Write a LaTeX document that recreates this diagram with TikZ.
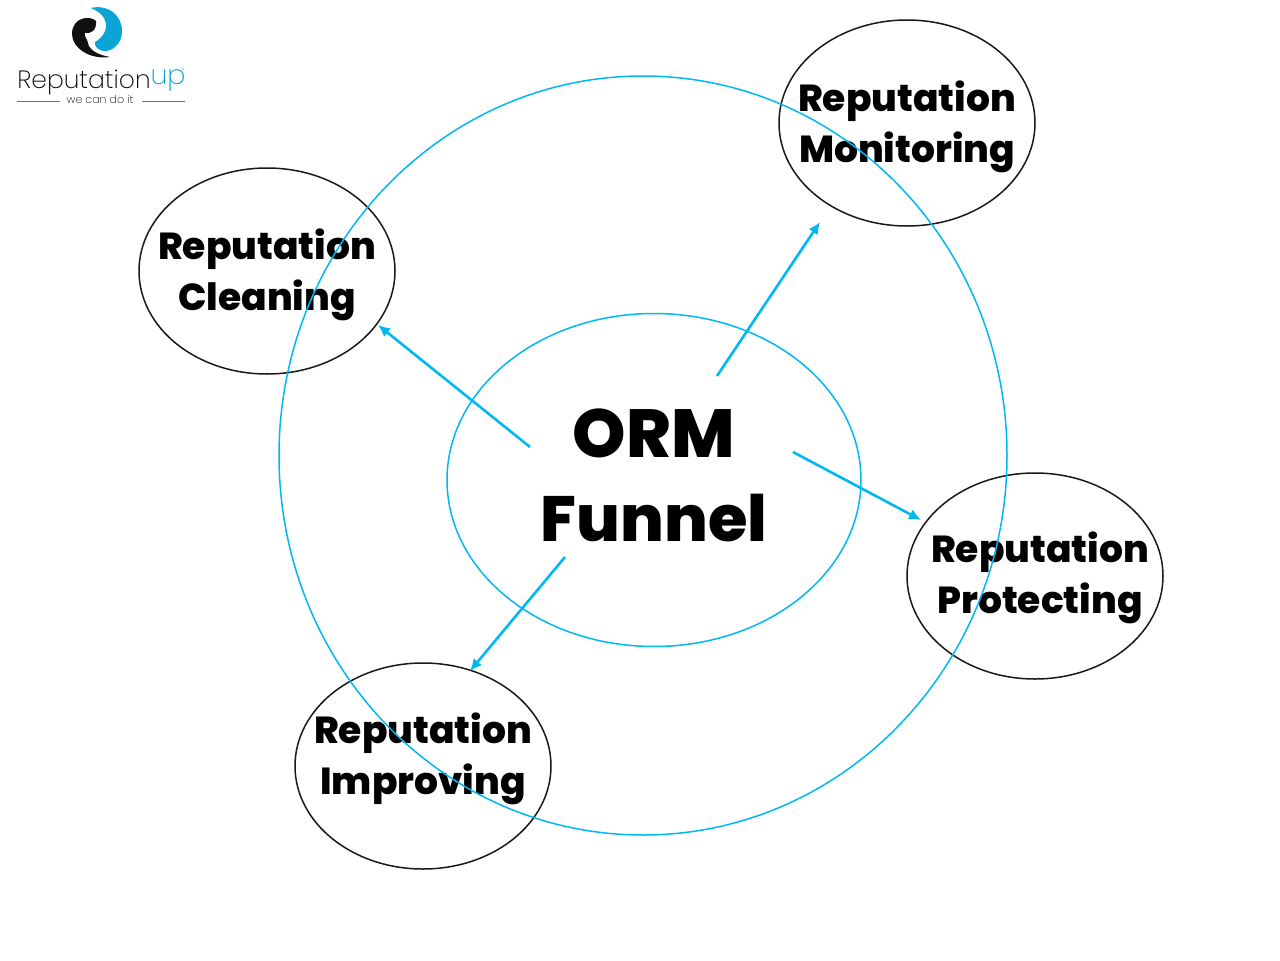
\documentclass[tikz,border=0pt]{standalone}
\usepackage{fontspec}
\setmainfont{Poppins}
\newfontfamily\heavyfont{Poppins ExtraBold}
\newfontfamily\logofont{Poppins ExtraLight}
\usetikzlibrary{shapes.geometric,arrows.meta}
\definecolor{cyanline}{HTML}{00B9F2}
\definecolor{logoblue}{HTML}{0AA5D6}
\definecolor{logoblack}{HTML}{111111}
\tikzset{
  x=1pt,y=-1pt,
  topic/.style={ellipse,draw=black!90,line width=1.5pt,minimum width=256pt,minimum height=206pt,inner sep=0pt},
  topictext/.style={inner sep=0pt,align=center,font=\heavyfont\fontsize{37.6}{51}\selectfont},
  coretext/.style={inner sep=0pt,align=center,font=\heavyfont\fontsize{64}{84}\selectfont},
  ring/.style={ellipse,draw=cyanline,line width=1.5pt,inner sep=0pt},
  flow/.style={draw=cyanline,line width=2.6pt,-{Latex[length=12pt,width=11pt]}},
  logorule/.style={draw=black!55,line width=0.7pt}
}
\begin{document}
\begin{tikzpicture}
\useasboundingbox (0,0) rectangle (1280,961);
\fill[white] (0,0) rectangle (1280,961);
\node[topic] (mon) at (907,123) {};
\node[topic] (cle) at (267,271) {};
\node[topic] (pro) at (1035,576) {};
\node[topic] (imp) at (423,766) {};
\node[topictext] (tmon) at (907,127) {Reputation\\Monitoring};
\node[topictext] (tcle) at (267,275) {Reputation\\Cleaning};
\node[topictext] (tpro) at (1040,578) {Reputation\\Protecting};
\node[topictext] (timp) at (423,759) {Reputation\\Improving};
\node[ring,minimum width=728pt,minimum height=759pt] (outer) at (643,455.5) {};
\node[ring,minimum width=414pt,minimum height=333pt] (core) at (654,480) {};
\node[coretext] (tcore) at (654,475) {{\fontsize{68}{84}\selectfont ORM}\\Funnel};
\coordinate (a1) at (717,376); \coordinate (b1) at (820,222);
\coordinate (a2) at (530,447); \coordinate (b2) at (378,325);
\coordinate (a3) at (793,452); \coordinate (b3) at (921,520);
\coordinate (a4) at (565,557); \coordinate (b4) at (470,671);
\draw[flow] (a1) -- (b1);
\draw[flow] (a2) -- (b2);
\draw[flow] (a3) -- (b3);
\draw[flow] (a4) -- (b4);
% logo
\fill[logoblack] (96,21) .. controls (90,15) and (72,17) .. (72,34) .. controls (72,48) and (90,60) .. (110,57) .. controls (98,55) and (89,50) .. (88,43) .. controls (87,38) and (84,37) .. (85,33) .. controls (90,34) and (97,31) .. (96,21) -- cycle;
\fill[logoblue] (91,8) .. controls (108,4) and (122,15) .. (122,31) .. controls (122,44) and (112,52) .. (103,51) .. controls (98,50) and (94,46) .. (95,42) .. controls (102,38) and (107,31) .. (106,24) .. controls (105,16) and (98,11) .. (91,8) -- cycle;
\node[inner sep=0pt,text=black,font=\logofont\fontsize{25}{25}\selectfont] (lname) at (84,82) {Reputation};
\node[inner sep=0pt,text=logoblue,font=\logofont\fontsize{27}{27}\selectfont] (lup) at (168,81) {up};
\node[inner sep=0pt,text=logoblue,font=\logofont\fontsize{6}{6}\selectfont] (lreg) at (183,70) {®};
\node[inner sep=0pt,text=black,font=\logofont\fontsize{11}{11}\selectfont] (ltag) at (100,99) {we can do it};
\coordinate (r1) at (17,101); \coordinate (r2) at (60,101); \coordinate (r3) at (142,101); \coordinate (r4) at (185,101);
\draw[logorule] (r1) -- (r2);
\draw[logorule] (r3) -- (r4);
\end{tikzpicture}
\end{document}
